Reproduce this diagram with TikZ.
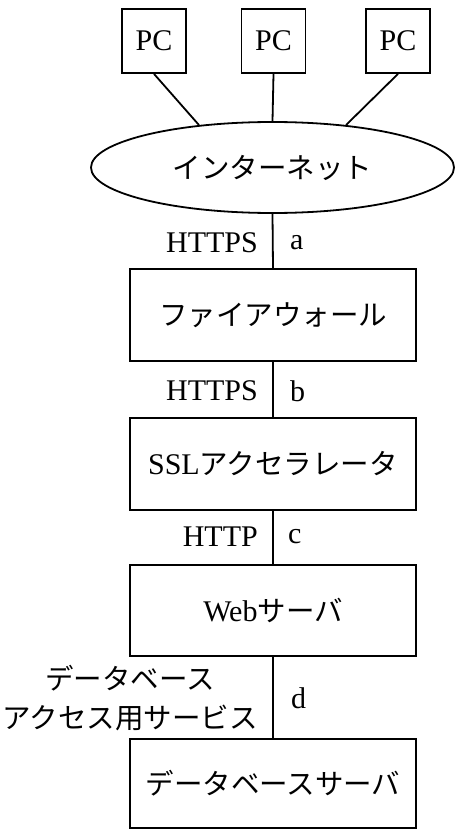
\documentclass[tikz,border=0pt]{standalone}
\usepackage{fontspec}
\setmainfont{Liberation Serif}
\newfontfamily\jp{Noto Sans CJK JP}[Scale=0.95]
\usetikzlibrary{shapes.geometric}
\begin{document}
\begin{tikzpicture}[x=1pt,y=-1pt,
  every node/.style={font=\fontsize{30}{39}\selectfont},
  box/.style={draw,line width=1.8pt,rectangle,inner sep=0pt,minimum width=286pt},
  pcbox/.style={draw,line width=1.8pt,rectangle,inner sep=0pt,minimum width=64pt,minimum height=64pt},
  conn/.style={line width=1.8pt},
  lbl/.style={inner sep=0pt}]
\useasboundingbox (0,0) rectangle (458,840);
\node[pcbox] (pc1) at (154,41) {PC};
\node[pcbox] (pc2) at (273.5,41) {PC};
\node[pcbox] (pc3) at (398,41) {PC};
\node[draw,line width=1.8pt,ellipse,inner sep=0pt,minimum width=363pt,minimum height=91pt] (inet) at (272.5,167.5) {\jp インターネット};
\node[box,minimum height=92pt] (fw) at (273,315) {\jp ファイアウォール};
\node[box,minimum height=92pt] (ssl) at (273,464) {SSL{\jp アクセラレータ}};
\node[box,minimum height=91pt] (web) at (273,610.5) {Web{\jp サーバ}};
\node[box,minimum height=89pt] (db) at (273,783.5) {\jp データベースサーバ};
\draw[conn] (pc1.south) -- (inet.150);
\draw[conn] (pc2.south) -- (inet.north);
\draw[conn] (pc3.south) -- (inet.30);
\draw[conn] (inet.south) -- (fw.north);
\draw[conn] (fw.south) -- (ssl.north);
\draw[conn] (ssl.south) -- (web.north);
\draw[conn] (web.south) -- (db.north);
\node[lbl,anchor=east] (la) at (258,243) {HTTPS};
\node[lbl,anchor=west] (ra) at (290,243) {a};
\node[lbl,anchor=east] (lb) at (258,391) {HTTPS};
\node[lbl,anchor=west] (rb) at (290,391) {b};
\node[lbl,anchor=east] (lc) at (258,537) {HTTP};
\node[lbl,anchor=west] (rc) at (288,537) {c};
\node[lbl,anchor=east,align=center] (ld) at (258,698) {\jp データベース\\\jp アクセス用サービス};
\node[lbl,anchor=west] (rd) at (291,698) {d};
\end{tikzpicture}
\end{document}
